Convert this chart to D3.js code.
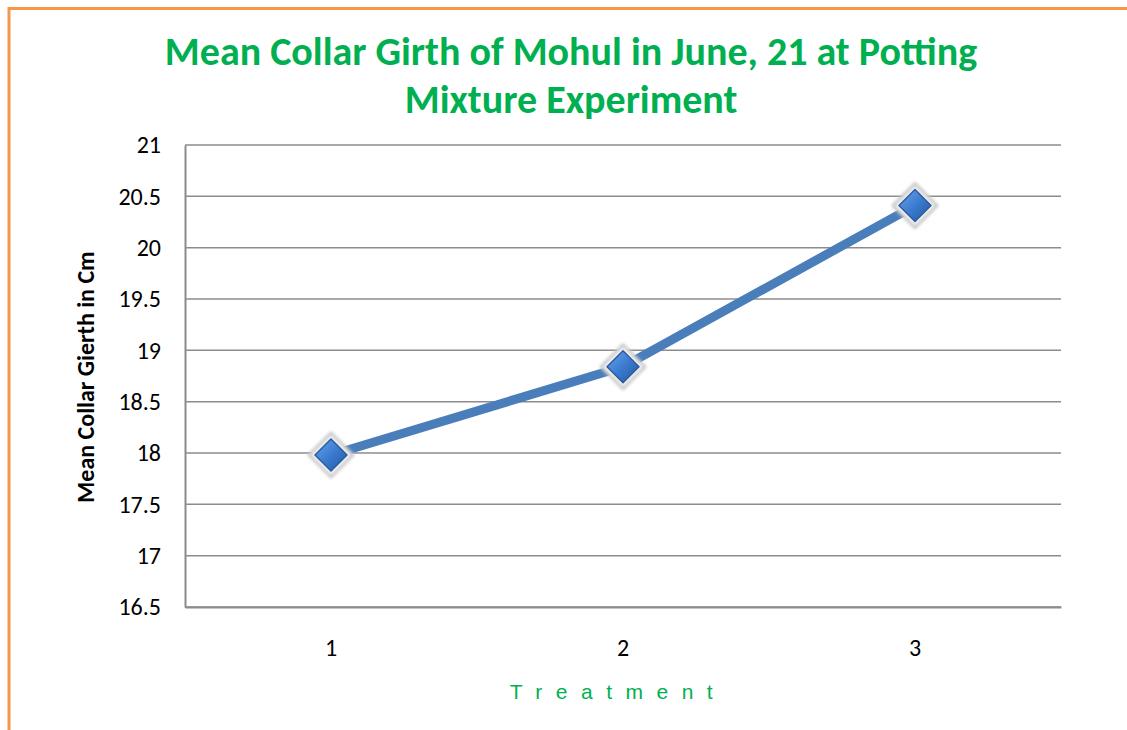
<!DOCTYPE html>
<head>
  <meta charset="utf-8">
  <script src="https://d3js.org/d3.v7.min.js"></script>
  <style>
    body { margin: 0; background: #fff; }
  </style>
</head>
<body>
<svg width="1127" height="730"></svg>
<script>

  let treatments = ["1", "2", "3"],
    girth = [17.98, 18.84, 20.41],
    yTicks = [16.5, 17, 17.5, 18, 18.5, 19, 19.5, 20, 20.5, 21];

  let svg = d3.select("svg"),
    margin = {top: 145, right: 66, bottom: 123, left: 185},
    width = 1127 - margin.left - margin.right,
    height = 730 - margin.top - margin.bottom;

  // orange frame, only top and left edges show
  svg.append("path")
    .attr("d", "M9,730 V8.5 H1127")
    .attr("fill", "none")
    .attr("stroke", "#f79646")
    .attr("stroke-width", 3);

  let defs = svg.append("defs");
  let grad = defs.append("linearGradient")
    .attr("id", "dia").attr("x1", 0).attr("y1", 0).attr("x2", 1).attr("y2", 1);
  grad.append("stop").attr("offset", "0%").attr("stop-color", "#6aa4ec");
  grad.append("stop").attr("offset", "50%").attr("stop-color", "#3b7bd0");
  grad.append("stop").attr("offset", "100%").attr("stop-color", "#24579f");
  let blur = defs.append("filter").attr("id", "glow")
    .attr("x", "-50%").attr("y", "-50%").attr("width", "200%").attr("height", "200%");
  blur.append("feGaussianBlur").attr("stdDeviation", 1.5);

  let x = d3.scaleBand().domain(treatments).range([0, width]),
    y = d3.scaleLinear().domain([16.5, 21]).range([height, 0]);

  let g = svg.append("g").attr("transform", `translate(${margin.left},${margin.top})`);

  // grid lines
  g.append("g")
    .selectAll("line")
    .data(yTicks)
    .join("line")
    .attr("x1", 0).attr("x2", width)
    .attr("y1", d => y(d)).attr("y2", d => y(d))
    .attr("stroke", "#8c8c8c")
    .attr("stroke-width", 1.5);

  let yAxis = g.append("g")
    .call(d3.axisLeft(y).tickValues(yTicks).tickSize(0).tickPadding(24).tickFormat(d3.format("")));
  yAxis.select(".domain").attr("stroke", "#8c8c8c").attr("stroke-width", 2);
  yAxis.selectAll("text")
    .attr("font-family", "Carlito, 'Open Sans', sans-serif")
    .attr("font-size", 24)
    .attr("fill", "#000");

  let xAxis = g.append("g")
    .attr("transform", `translate(0,${height})`)
    .call(d3.axisBottom(x).tickSize(0).tickPadding(32));
  xAxis.select(".domain").attr("stroke", "#8c8c8c").attr("stroke-width", 2);
  xAxis.selectAll("text")
    .attr("font-family", "Carlito, 'Open Sans', sans-serif")
    .attr("font-size", 24)
    .attr("fill", "#000");

  let line = d3.line()
    .x((d, i) => x(treatments[i]) + x.bandwidth() / 2)
    .y(d => y(d));

  g.append("path")
    .datum(girth)
    .attr("d", line)
    .attr("fill", "none")
    .attr("stroke", "#4a7ebb")
    .attr("stroke-width", 9)
    .attr("stroke-linejoin", "round");

  let marks = g.append("g")
    .selectAll("g")
    .data(girth)
    .join("g")
    .attr("transform", (d, i) => `translate(${x(treatments[i]) + x.bandwidth() / 2},${y(d)})`);

  let dia = s => `M0,${-s} L${s},0 L0,${s} L${-s},0 Z`;
  marks.append("path")
    .attr("d", dia(22))
    .attr("fill", "#f4f4f4")
    .attr("stroke", "#c8c8c8")
    .attr("stroke-width", 3)
    .attr("stroke-linejoin", "round")
    .attr("filter", "url(#glow)");
  marks.append("path")
    .attr("d", dia(16))
    .attr("fill", "url(#dia)")
    .attr("stroke", "#2b5c9e")
    .attr("stroke-width", 1.5)
    .attr("stroke-linejoin", "round");

  // titles
  svg.append("text")
    .attr("x", 571).attr("y", 65)
    .attr("text-anchor", "middle")
    .attr("font-family", "Carlito, 'Open Sans', sans-serif")
    .attr("font-weight", "bold")
    .attr("font-size", 40)
    .attr("fill", "#00b050")
    .text("Mean Collar Girth of Mohul in June, 21 at Potting");
  svg.append("text")
    .attr("x", 571).attr("y", 113)
    .attr("text-anchor", "middle")
    .attr("font-family", "Carlito, 'Open Sans', sans-serif")
    .attr("font-weight", "bold")
    .attr("font-size", 40)
    .attr("fill", "#00b050")
    .text("Mixture Experiment");

  svg.append("text")
    .attr("transform", "translate(94,377) rotate(-90)")
    .attr("text-anchor", "middle")
    .attr("font-family", "Carlito, 'Open Sans', sans-serif")
    .attr("font-weight", "bold")
    .attr("font-size", 24)
    .attr("fill", "#000")
    .text("Mean Collar Gierth in Cm");

  svg.append("text")
    .attr("x", 618).attr("y", 699)
    .attr("text-anchor", "middle")
    .attr("font-family", "'Liberation Sans', Arial, sans-serif")
    .attr("font-size", 21)
    .attr("letter-spacing", 13.5)
    .attr("fill", "#00b050")
    .text("Treatment");

</script>
</body>
